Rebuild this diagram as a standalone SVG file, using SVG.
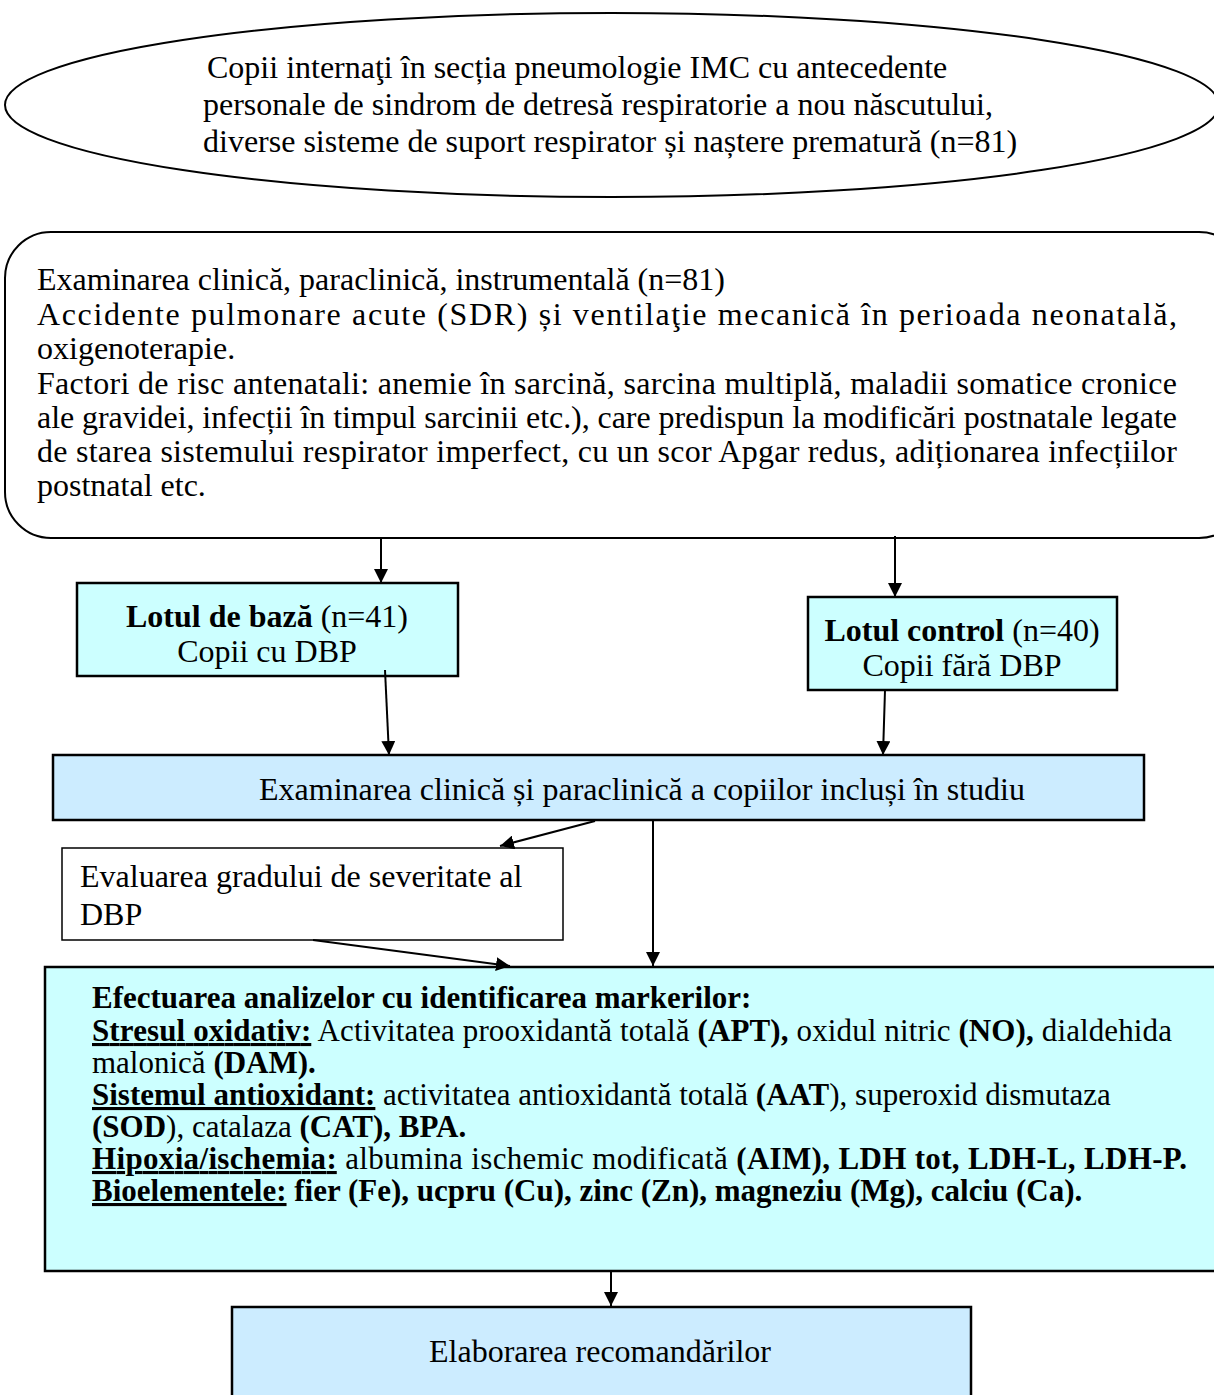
<svg xmlns="http://www.w3.org/2000/svg" width="1214" height="1395" viewBox="0 0 1214 1395">
<style>
text{font-family:"Liberation Serif","Times New Roman",serif;font-size:32px;fill:#000}
.a{font-size:31px}
.b{font-weight:bold}
.u{font-weight:bold;text-decoration:underline}
.box{stroke:#000;stroke-width:2.5}
.cn{stroke:#000;stroke-width:2;fill:none;marker-end:url(#ah)}
</style>
<defs>
<marker id="ah" viewBox="0 0 10 10" refX="10" refY="5" markerWidth="7" markerHeight="7" orient="auto" markerUnits="strokeWidth">
<path d="M0,0 L10,5 L0,10 z" fill="#000"/>
</marker>
</defs>
<rect width="1214" height="1395" fill="#fff"/>
<g id="n_ellipse">
<ellipse cx="612" cy="105" rx="607" ry="92" fill="#fff" stroke="#000" stroke-width="2"/>
<text x="207" y="78"> Copii internaţi în secția pneumologie IMC cu antecedente</text>
<text x="203" y="115">personale de sindrom de detresă respiratorie a nou născutului,</text>
<text x="203" y="152">diverse sisteme de suport respirator și naștere prematură (n=81)</text>
</g>
<g id="n_exam1">
<rect x="5" y="232" width="1240" height="306" rx="46" fill="#fff" stroke="#000" stroke-width="2"/>
<text x="37" y="290">Examinarea clinică, paraclinică, instrumentală (n=81)</text>
<text x="37" y="325" textLength="1140" lengthAdjust="spacing">Accidente pulmonare acute (SDR) și ventilaţie mecanică în perioada neonatală,</text>
<text x="37" y="359">oxigenoterapie.</text>
<text x="37" y="394" textLength="1140" lengthAdjust="spacing">Factori de risc antenatali: anemie în sarcină, sarcina multiplă, maladii somatice cronice</text>
<text x="37" y="428" textLength="1140" lengthAdjust="spacing">ale gravidei, infecții în timpul sarcinii etc.), care predispun la modificări postnatale legate</text>
<text x="37" y="462" textLength="1140" lengthAdjust="spacing">de starea sistemului respirator imperfect, cu un scor Apgar redus, adiționarea infecțiilor</text>
<text x="37" y="496">postnatal etc.</text>
</g>
<g id="n_baza">
<rect class="box" x="77" y="583" width="381" height="93" fill="#CCFFFF"/>
<text x="267" y="627" text-anchor="middle"><tspan class="b">Lotul de bază</tspan> (n=41)</text>
<text x="267" y="662" text-anchor="middle">Copii cu DBP</text>
</g>
<g id="n_control">
<rect class="box" x="808" y="597" width="309" height="93" fill="#CCFFFF"/>
<text x="962" y="641" text-anchor="middle"><tspan class="b">Lotul control</tspan> (n=40)</text>
<text x="962" y="676" text-anchor="middle">Copii fără DBP</text>
</g>
<g id="n_exam2">
<rect class="box" x="53" y="755" width="1091" height="65" fill="#CCECFF"/>
<text x="642" y="800" text-anchor="middle">Examinarea clinică și paraclinică a copiilor incluși în studiu</text>
</g>
<g id="n_sev">
<rect x="62" y="848" width="501" height="92" fill="#fff" stroke="#000" stroke-width="1.5"/>
<text x="80" y="887">Evaluarea gradului de severitate al</text>
<text x="80" y="925">DBP</text>
</g>
<g id="n_analize">
<rect class="box" x="45" y="967" width="1180" height="304" fill="#CCFFFF"/>
<text class="a b" x="92" y="1008">Efectuarea analizelor cu identificarea markerilor:</text>
<text class="a" x="92" y="1041" textLength="1080" lengthAdjust="spacing"><tspan class="u">Stresul oxidativ:</tspan> Activitatea prooxidantă totală <tspan class="b">(APT),</tspan> oxidul nitric <tspan class="b">(NO),</tspan> dialdehida</text>
<text class="a" x="92" y="1073">malonică <tspan class="b">(DAM).</tspan></text>
<text class="a" x="92" y="1105"><tspan class="u">Sistemul antioxidant:</tspan> activitatea antioxidantă totală <tspan class="b">(AAT</tspan>), superoxid dismutaza</text>
<text class="a" x="92" y="1137"><tspan class="b">(SOD</tspan>), catalaza <tspan class="b">(CAT), BPA.</tspan></text>
<text class="a" x="92" y="1169" textLength="1095" lengthAdjust="spacing"><tspan class="u">Hipoxia/ischemia:</tspan> albumina ischemic modificată <tspan class="b">(AIM), LDH tot, LDH-L, LDH-P.</tspan></text>
<text class="a b" x="92" y="1201"><tspan class="u">Bioelementele:</tspan> fier (Fe), ucpru (Cu), zinc (Zn), magneziu (Mg), calciu (Ca).</text>
</g>
<g id="n_recom">
<rect class="box" x="232" y="1307" width="739" height="100" fill="#CCECFF"/>
<text x="600" y="1362" text-anchor="middle">Elaborarea recomandărilor</text>
</g>
<g id="connectors">
<line class="cn" x1="381" y1="538" x2="381" y2="583"/>
<line class="cn" x1="895" y1="536" x2="895" y2="597"/>
<line class="cn" x1="385" y1="670" x2="389" y2="755"/>
<line class="cn" x1="885" y1="690" x2="883" y2="755"/>
<line class="cn" x1="595" y1="821" x2="500" y2="846"/>
<line class="cn" x1="653" y1="821" x2="653" y2="966"/>
<line class="cn" x1="313" y1="940" x2="510" y2="966"/>
<line class="cn" x1="611" y1="1272" x2="611" y2="1306"/>
</g>
</svg>
